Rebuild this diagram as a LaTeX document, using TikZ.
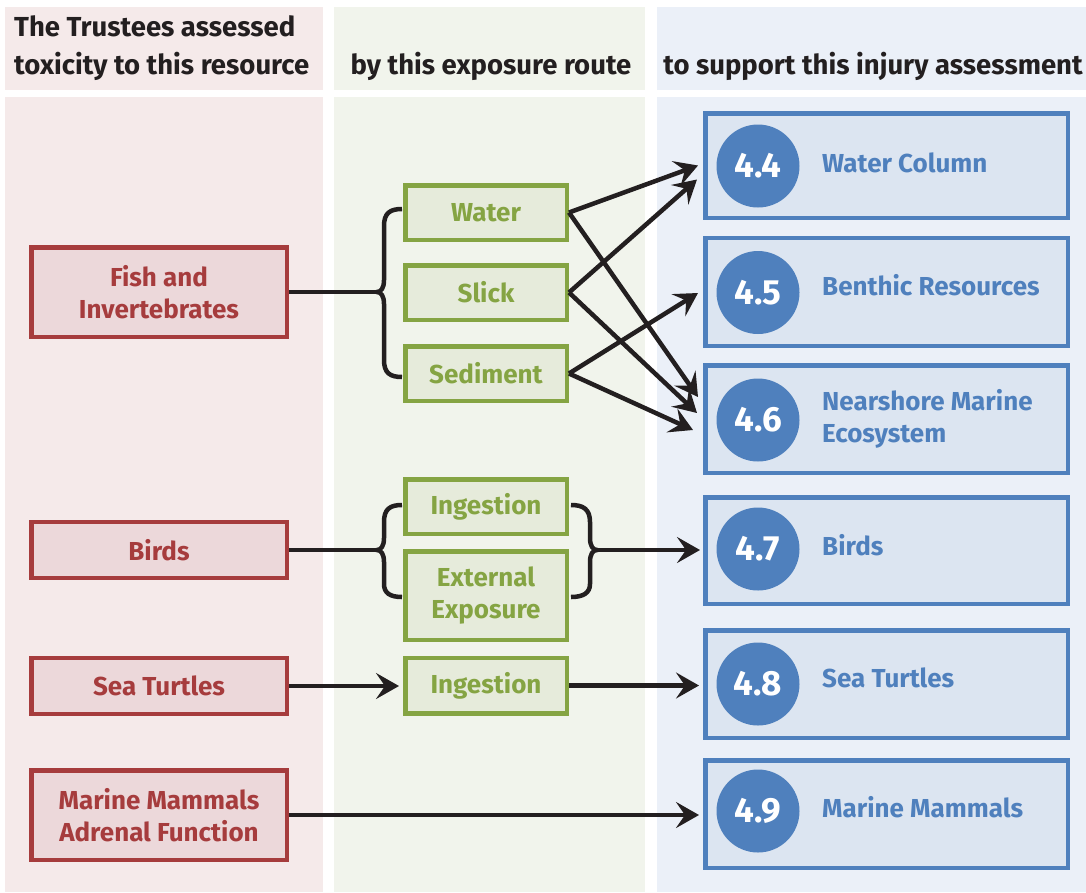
\documentclass[tikz,border=0pt]{standalone}
\usepackage{fontspec}
\setmainfont{Fira Sans}
\usetikzlibrary{arrows.meta,calc}
\definecolor{redc}{HTML}{A63C3D}
\definecolor{pinkbg}{HTML}{F5EAEA}
\definecolor{pinkfill}{HTML}{ECD8DA}
\definecolor{greenc}{HTML}{85A443}
\definecolor{greenbg}{HTML}{F1F4EC}
\definecolor{greenfill}{HTML}{E6EBDB}
\definecolor{bluec}{HTML}{4F80BD}
\definecolor{bluebg}{HTML}{EBF0F8}
\definecolor{bluefill}{HTML}{DCE5F1}
\definecolor{ink}{HTML}{231F20}
\tikzset{
  txt/.style={font=\bfseries\fontsize{26}{32.5}\selectfont},
  hdr/.style={font=\bfseries\fontsize{27.5}{38}\selectfont, text=ink, inner sep=0pt},
  lbox/.style={txt, draw=redc, fill=pinkfill, text=redc, line width=4.5pt, minimum width=255.5pt, align=center, inner sep=0pt},
  gbox/.style={txt, draw=greenc, fill=greenfill, text=greenc, line width=4.5pt, minimum width=161.5pt, align=center, inner sep=0pt},
  bbox/.style={draw=bluec, fill=bluefill, line width=4.5pt, minimum width=362.5pt, inner sep=0pt},
  num/.style={circle, fill=bluec, minimum size=83pt, inner sep=0pt, text=white, font=\bfseries\fontsize{35}{35}\selectfont},
  blab/.style={txt, text=bluec, anchor=west, align=left, inner sep=0pt},
  conn/.style={draw=ink, line width=4.5pt},
  arr/.style={conn, -{Stealth[length=23pt,width=26pt,inset=9pt]}},
}
\begin{document}
\begin{tikzpicture}[x=1pt,y=-1pt]
\useasboundingbox (0,0) rectangle (1086,892);
\fill[white] (0,0) rectangle (1086,892);
% column backgrounds
\fill[pinkbg] (5,7) rectangle (323,90);
\fill[pinkbg] (5,97) rectangle (323,892);
\fill[greenbg] (334,7) rectangle (645,90);
\fill[greenbg] (334,97) rectangle (645,892);
\fill[bluebg] (657,7) rectangle (1086,90);
\fill[bluebg] (657,97) rectangle (1086,892);
% headers
\node[hdr, anchor=base west, align=left] (h1) at (14,36) {The Trustees assessed};
\node[hdr, anchor=base west] (h1b) at (14,74) {toxicity to this resource};
\node[hdr, anchor=base] (h2) at (491,74) {by this exposure route};
\node[hdr, anchor=base] (h3) at (873,74) {to support this injury assessment};
% left column
\node[lbox, minimum height=89.5pt] (fish) at (159,292) {Fish and\\Invertebrates};
\node[lbox, minimum height=56pt] (birds) at (159,550) {Birds};
\node[lbox, minimum height=56pt] (turtles) at (159,686) {Sea Turtles};
\node[lbox, minimum height=89.5pt] (mammals) at (159,815) {Marine Mammals\\Adrenal Function};
% middle column
\node[gbox, minimum height=54.5pt] (water) at (486,212.5) {Water};
\node[gbox, minimum height=54.5pt] (slick) at (486,292.5) {Slick};
\node[gbox, minimum height=54.5pt] (sediment) at (486,373.5) {Sediment};
\node[gbox, minimum height=54.5pt] (ingA) at (486,506.5) {Ingestion};
\node[gbox, minimum height=88.5pt] (ext) at (486,595.5) {External\\Exposure};
\node[gbox, minimum height=55.5pt] (ingB) at (486,685.5) {Ingestion};
% right column
\node[bbox, minimum height=104.5pt] (b44) at (886.5,165.5) {};
\node[bbox, minimum height=108pt] (b45) at (886.5,292) {};
\node[bbox, minimum height=107.5pt] (b46) at (886.5,419) {};
\node[bbox, minimum height=106.5pt] (b47) at (886.5,550.5) {};
\node[bbox, minimum height=107.5pt] (b48) at (886.5,684) {};
\node[bbox, minimum height=107.5pt] (b49) at (886.5,814) {};
\node[num] (n44) at (758,166) {4.4};
\node[num] (n45) at (758,292.5) {4.5};
\node[num] (n46) at (758,420) {4.6};
\node[num] (n47) at (758,549) {4.7};
\node[num] (n48) at (758,684) {4.8};
\node[num] (n49) at (758,811) {4.9};
\node[blab, anchor=base west] (l44) at (822,172) {Water Column};
\node[blab, anchor=base west] (l45) at (822,295) {Benthic Resources};
\node[blab] (l46) at (822,419) {Nearshore Marine\\Ecosystem};
\node[blab, anchor=base west] (l47) at (822,555) {Birds};
\node[blab, anchor=base west] (l48) at (822,687) {Sea Turtles};
\node[blab, anchor=base west] (l49) at (822,817) {Marine Mammals};
% braces
\coordinate (tipA) at (377,292);
\coordinate (tipB) at (377,550);
\coordinate (tipC) at (597,550);
\draw[conn] (402,209) .. controls (390,209) and (384,213) .. (384,226) -- (384,280)
  .. controls (384,288) and (381,292) .. (tipA)
  .. controls (381,292) and (384,296) .. (384,304) -- (384,360)
  .. controls (384,373) and (390,377) .. (402,377);
\draw[conn] (402,505) .. controls (390,505) and (384,509) .. (384,522) -- (384,538)
  .. controls (384,546) and (381,550) .. (tipB)
  .. controls (381,550) and (384,554) .. (384,562) -- (384,584)
  .. controls (384,593) and (390,597) .. (402,597);
\draw[conn] (571,505) .. controls (583,505) and (590,509) .. (590,522) -- (590,538)
  .. controls (590,546) and (593,550) .. (tipC)
  .. controls (593,550) and (590,554) .. (590,562) -- (590,584)
  .. controls (590,593) and (583,597) .. (571,597);
% connectors
\draw[conn] (fish.east) -- (tipA);
\draw[conn] (birds.east) -- (tipB);
\draw[arr] (water.east) -- ([shift={(-5,0)}]b44.west);
\draw[arr] (slick.east) -- ([shift={(-6,14)}]b44.west);
\draw[arr] (sediment.east) -- ([shift={(-5,1)}]b45.west);
\draw[arr] (water.east) -- ([shift={(-5,-22)}]b46.west);
\draw[arr] (slick.east) -- ([shift={(-6,-6)}]b46.west);
\draw[arr] (sediment.east) -- ([shift={(-10,11)}]b46.west);
\draw[arr, shorten >=3pt] (tipC) -- (tipC -| b47.west);
\draw[arr, shorten >=4pt] (turtles.east) -- (turtles.east -| ingB.west);
\draw[arr, shorten >=4pt] (ingB.east) -- (ingB.east -| b48.west);
\draw[arr, shorten >=4pt] (mammals.east) -- (mammals.east -| b49.west);
\end{tikzpicture}
\end{document}
